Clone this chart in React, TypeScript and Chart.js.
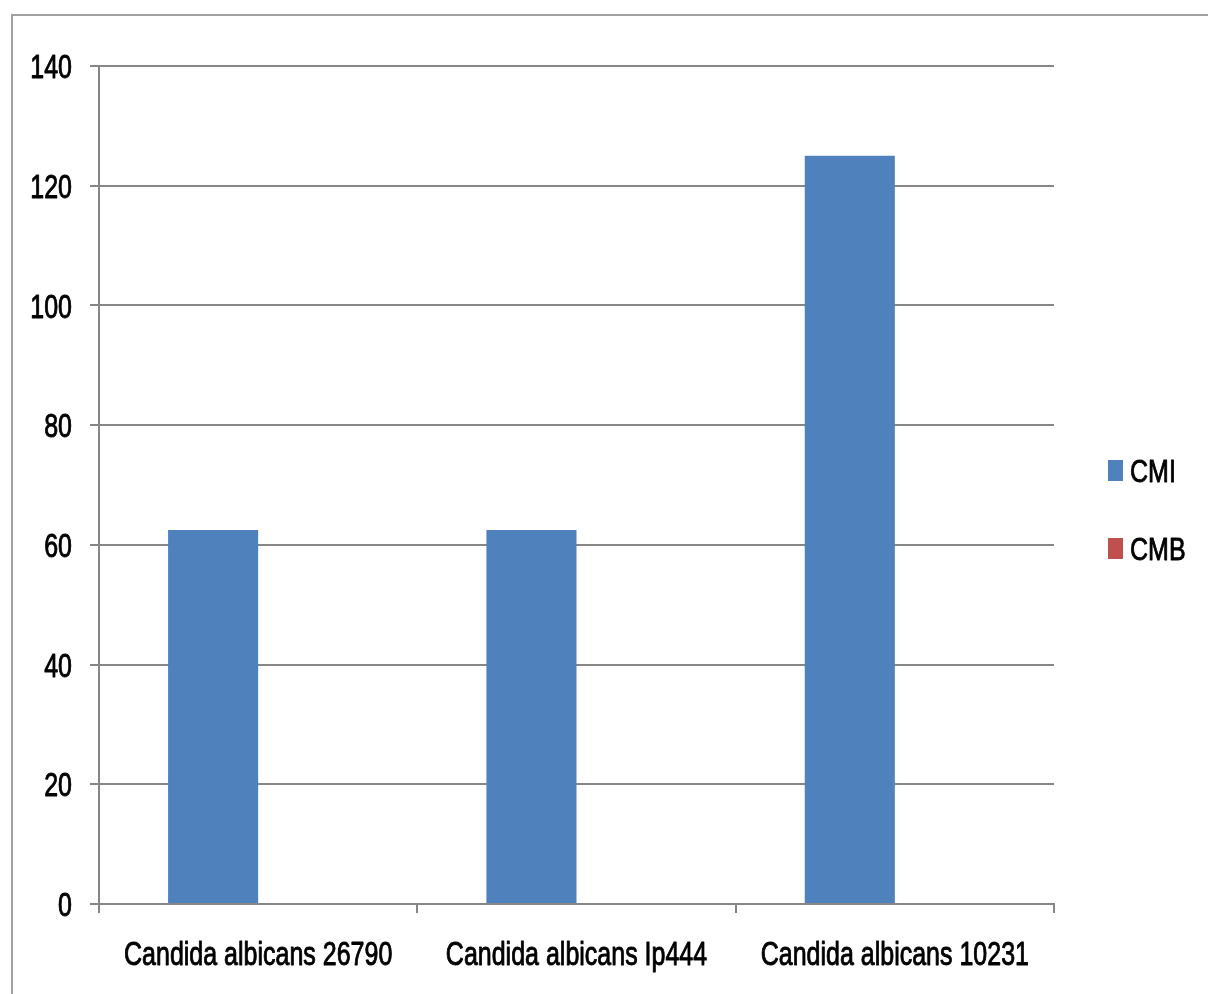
import React, { useEffect, useRef } from "react";
import { Chart, registerables } from "chart.js";

Chart.register(...registerables);

// Strains tested
const categories = ["Candida albicans 26790", "Candida albicans Ip444", "Candida albicans 10231"];
// Minimum inhibitory concentration
const cmiValues = [62.5, 62.5, 125];
// Minimum fungicidal concentration (no bars drawn)
const cmbValues = [0, 0, 0];
const seriesNames = ["CMI", "CMB"];
const seriesColors = ["#4F81BD", "#C0504D"];

const FONT = "'Liberation Sans', Arial, sans-serif";
const GRID = "#868686";
const LABEL_SIZE = 25;
const TALL = 1.36; // vertical stretch applied to axis text

// Draws a tall, narrow-looking label by stretching the glyphs vertically
function tallText(ctx: CanvasRenderingContext2D, text: string, x: number, baseline: number, align: CanvasTextAlign, size: number, sy: number) {
  ctx.save();
  ctx.translate(x, baseline);
  ctx.scale(1, sy);
  ctx.font = `${size}px ${FONT}`;
  ctx.fillStyle = "#000";
  ctx.strokeStyle = "#000";
  ctx.lineWidth = 0.7;
  ctx.lineJoin = "round";
  ctx.textAlign = align;
  ctx.textBaseline = "alphabetic";
  ctx.fillText(text, 0, 0);
  ctx.strokeText(text, 0, 0);
  ctx.restore();
}

// Tick labels
const tallTicks = {
  id: "tallTicks",
  afterDraw(chart: any) {
    const ctx = chart.ctx;
    const xs = chart.scales.x;
    const ys = chart.scales.y;
    const capH = 0.716 * LABEL_SIZE * TALL;
    xs.ticks.forEach((t: any, i: number) => {
      const label = chart.data.labels[t.value] ?? t.label;
      tallText(ctx, String(label), xs.getPixelForTick(i), xs.top + 61, "center", LABEL_SIZE, TALL);
    });
    ys.ticks.forEach((t: any, i: number) => {
      const y = ys.getPixelForTick(i);
      tallText(ctx, String(t.label), ys.right - 27, y + capH / 2, "right", LABEL_SIZE, TALL);
    });
  },
};

// Legend drawn in the reserved right-hand margin, read from the datasets
const sideLegend = {
  id: "sideLegend",
  afterDraw(chart: any) {
    const ctx = chart.ctx;
    const area = chart.chartArea;
    const boxX = area.right + 54;
    const firstY = (area.top + area.bottom) / 2 - 15;
    const step = 78;
    chart.data.datasets.forEach((ds: any, i: number) => {
      const cy = firstY + i * step;
      ctx.save();
      ctx.fillStyle = ds.backgroundColor;
      ctx.fillRect(boxX, cy - 10, 15, 21);
      ctx.restore();
      tallText(ctx, ds.label, boxX + 22, cy + 12, "left", LABEL_SIZE, 1.25);
    });
  },
};

export default function App() {
  const canvasRef = useRef<HTMLCanvasElement | null>(null);

  useEffect(() => {
    const canvas = canvasRef.current;
    if (!canvas) return;
    const chart = new Chart(canvas, {
      type: "bar",
      data: {
        labels: categories,
        datasets: [
          { label: seriesNames[0], data: cmiValues, backgroundColor: seriesColors[0], borderWidth: 0 },
          { label: seriesNames[1], data: cmbValues, backgroundColor: seriesColors[1], borderWidth: 0 },
        ],
      },
      options: {
        animation: false,
        responsive: false,
        maintainAspectRatio: false,
        layout: { padding: { top: 66, right: 154, left: 0, bottom: 0 } },
        datasets: { bar: { categoryPercentage: 0.566, barPercentage: 1 } },
        plugins: {
          legend: { display: false },
          tooltip: { enabled: false },
        },
        scales: {
          x: {
            afterFit: (s: any) => {
              s.height = 90;
            },
            grid: {
              drawOnChartArea: false,
              drawTicks: true,
              tickLength: 9,
              color: GRID,
              lineWidth: 2,
              offset: true,
            },
            border: { display: true, color: GRID, width: 2 },
            ticks: { display: false, autoSkip: false, maxRotation: 0 },
          },
          y: {
            min: 0,
            max: 140,
            afterFit: (s: any) => {
              s.width = 99;
            },
            grid: {
              color: GRID,
              lineWidth: 2,
              tickLength: 9,
              drawTicks: true,
            },
            border: { display: true, color: GRID, width: 2 },
            ticks: { display: false, stepSize: 20 },
          },
        },
      },
      plugins: [tallTicks, sideLegend],
    });
    return () => chart.destroy();
  }, []);

  return (
    <div
      style={{
        position: "absolute",
        left: 0,
        top: 0,
        width: 1208,
        height: 994,
        background: "#fff",
        overflow: "hidden",
      }}
    >
      <div
        style={{
          position: "absolute",
          left: 11,
          top: 14,
          width: 1300,
          height: 1100,
          border: "2px solid #a0a0a0",
        }}
      />
      <canvas
        ref={canvasRef}
        width={1208}
        height={994}
        style={{ position: "absolute", left: 0, top: 0, width: 1208, height: 994 }}
      />
    </div>
  );
}
